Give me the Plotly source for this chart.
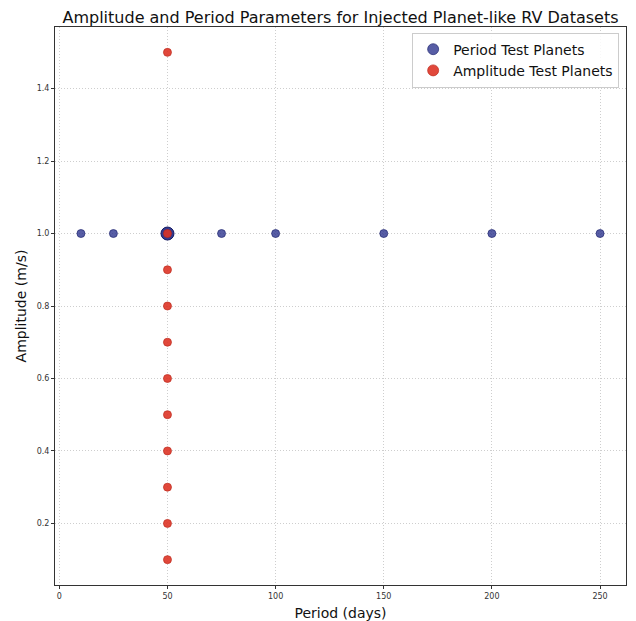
import plotly.graph_objects as go

# Data
period_test_periods = [10, 25, 50, 75, 100, 150, 200, 250]
period_test_amps = [1.0, 1.0, 1.0, 1.0, 1.0, 1.0, 1.0, 1.0]

amp_test_periods = [50, 50, 50, 50, 50, 50, 50, 50, 50, 50, 50]
amp_test_amps = [0.1, 0.2, 0.3, 0.4, 0.5, 0.6, 0.7, 0.8, 0.9, 1.0, 1.5]

ref_period = [50]
ref_amp = [1.0]

x_ticks = [0, 50, 100, 150, 200, 250]
y_ticks = [0.2, 0.4, 0.6, 0.8, 1.0, 1.2, 1.4]

blue = "rgba(40,48,140,0.78)"
blue_edge = "rgba(30,36,110,0.85)"
red = "rgba(222,52,38,0.9)"
red_edge = "rgba(190,45,32,0.9)"

fig = go.Figure()

fig.add_trace(go.Scatter(
    x=period_test_periods, y=period_test_amps, mode="markers",
    marker=dict(size=8, color=blue, line=dict(color=blue_edge, width=0.8)),
    showlegend=False, hoverinfo="x+y"))

fig.add_trace(go.Scatter(
    x=ref_period, y=ref_amp, mode="markers",
    marker=dict(size=13, color="rgba(30,38,130,0.9)", line=dict(color="rgba(20,26,100,1)", width=1)),
    showlegend=False))

fig.add_trace(go.Scatter(
    x=amp_test_periods, y=amp_test_amps, mode="markers",
    marker=dict(size=8, color=red, line=dict(color=red_edge, width=0.8)),
    showlegend=False))

# legend entries
fig.add_trace(go.Scatter(
    x=[None], y=[None], mode="markers", name="Period Test Planets",
    marker=dict(size=11, color=blue, line=dict(color=blue_edge, width=0.8))))
fig.add_trace(go.Scatter(
    x=[None], y=[None], mode="markers", name="Amplitude Test Planets",
    marker=dict(size=11, color=red, line=dict(color=red_edge, width=0.8))))

axis_common = dict(
    showline=True, linecolor="#333", linewidth=1, mirror=True,
    showgrid=True, gridcolor="rgba(185,185,185,0.7)", griddash="1px,2px", gridwidth=0.7,
    zeroline=False, ticks="outside", ticklen=3, tickcolor="#333",
    tickfont=dict(family="DejaVu Sans", size=8, color="#333"),
    automargin=False,
)

fig.update_layout(
    width=636, height=621,
    margin=dict(l=55, r=10, t=27, b=36),
    paper_bgcolor="white", plot_bgcolor="white",
    font=dict(family="DejaVu Sans", color="#111"),
    title=dict(text="Amplitude and Period Parameters for Injected Planet-like RV Datasets",
               x=(55 + 626) / 2 / 636, xanchor="center", y=1 - 17 / 621, yanchor="middle",
               font=dict(size=16, color="#111")),
    xaxis=dict(range=[-2, 262], tickvals=x_ticks,
               title=dict(text="Period (days)", font=dict(size=14), standoff=8),
               **axis_common),
    yaxis=dict(range=[0.03, 1.57], tickvals=y_ticks, tickformat=".1f",
               title=dict(text="Amplitude (m/s)", font=dict(size=14), standoff=6),
               **axis_common),
    legend=dict(x=0.988, y=0.99, xanchor="right", yanchor="top",
                bgcolor="rgba(255,255,255,0.85)", bordercolor="#ccc", borderwidth=1,
                font=dict(size=14, color="#111"), itemwidth=30, tracegroupgap=0),
)

fig.write_html("out.html")
